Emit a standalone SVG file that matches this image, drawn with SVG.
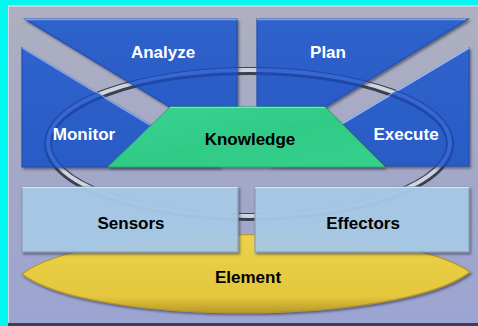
<svg xmlns="http://www.w3.org/2000/svg" xmlns:xlink="http://www.w3.org/1999/xlink" width="478" height="326" viewBox="0 0 478 326">
<defs>
<linearGradient id="bg" x1="0" y1="0" x2="0" y2="1">
<stop offset="0" stop-color="#aeb0c0"/>
<stop offset="0.5" stop-color="#a4a8c6"/>
<stop offset="1" stop-color="#9ca4d2"/>
</linearGradient>
<linearGradient id="blue" x1="0" y1="0" x2="0" y2="1">
<stop offset="0" stop-color="#2f63cc"/>
<stop offset="1" stop-color="#2a5bc6"/>
</linearGradient>
<linearGradient id="green" x1="0" y1="0" x2="1" y2="1">
<stop offset="0" stop-color="#3ad492"/>
<stop offset="0.5" stop-color="#2fcb86"/>
<stop offset="1" stop-color="#37d08c"/>
</linearGradient>
<linearGradient id="yellow" x1="0" y1="0" x2="0" y2="1">
<stop offset="0" stop-color="#ecd24a"/>
<stop offset="0.8" stop-color="#e3c63c"/>
<stop offset="1" stop-color="#b89a28"/>
</linearGradient>
<clipPath id="cA"><polygon points="25,19 237,19 237,107 170,107"/></clipPath>
<clipPath id="cP"><polygon points="257,19 468,19 325,107 257,107"/></clipPath>
<clipPath id="cM"><polygon points="22,48 22,167 220,167"/></clipPath>
<clipPath id="cE"><polygon points="469,48 469,166 271,166"/></clipPath>
<g id="ringF">
<ellipse cx="249" cy="144" rx="201" ry="73" fill="none" stroke="#1f46a6" stroke-width="8" stroke-opacity="0.9"/>
<ellipse cx="249" cy="143" rx="201" ry="73" fill="none" stroke="#3a6cd6" stroke-width="4" stroke-opacity="0.9"/>
</g>
<filter id="sh" x="-5%" y="-5%" width="110%" height="120%">
<feDropShadow dx="1.5" dy="2" stdDeviation="1.2" flood-color="#303850" flood-opacity="0.6"/>
</filter>
</defs>
<style>
.blue{fill:url(#blue);stroke:#244fae;stroke-width:1.2;filter:url(#sh)}
.light{fill:#a9cbe8;fill-opacity:0.93;stroke:#8c9cb4;stroke-width:1.2;filter:url(#sh)}
.w{font-family:"Liberation Sans",Arial,sans-serif;font-weight:bold;font-size:17px;fill:#ffffff;text-anchor:middle}
.k{font-family:"Liberation Sans",Arial,sans-serif;font-weight:bold;font-size:17px;fill:#000000;text-anchor:middle}
.hl{stroke:#7fa2ea;stroke-width:1.5;fill:none}
</style>
<rect x="0" y="0" width="478" height="326" fill="#00f8f0"/>
<rect x="8" y="5" width="470" height="321" fill="#3c4050"/>
<rect x="8" y="5" width="470" height="318" fill="url(#bg)"/>
<line x1="8" y1="6" x2="478" y2="6" stroke="#d6d8e4" stroke-width="1.5"/>
<line x1="8.5" y1="5" x2="8.5" y2="323" stroke="#d6d8e4" stroke-width="1"/>

<g id="ring-back">
<ellipse cx="249" cy="144" rx="201" ry="73" fill="none" stroke="#3a4054" stroke-width="8"/>
<ellipse cx="249" cy="143" rx="201" ry="73" fill="none" stroke="#d0d4e0" stroke-width="4"/>
</g>

<g id="element">
<path d="M22,274 C90,222 400,222 470,272 C400,326 90,326 22,274 Z" fill="url(#yellow)" stroke="#b39826" stroke-width="1.2" filter="url(#sh)"/>
<text class="k" x="248" y="283">Element</text>
</g>

<g id="analyze">
<polygon class="blue" points="25,19 237,19 237,107 170,107"/>
<line x1="25" y1="19.5" x2="237" y2="19.5" class="hl"/>
<use xlink:href="#ringF" href="#ringF" clip-path="url(#cA)"/>
<text class="w" x="163" y="58">Analyze</text>
</g>
<g id="plan">
<polygon class="blue" points="257,19 468,19 325,107 257,107"/>
<line x1="257" y1="19.5" x2="466" y2="19.5" class="hl"/>
<use xlink:href="#ringF" href="#ringF" clip-path="url(#cP)"/>
<text class="w" x="328" y="58">Plan</text>
</g>
<g id="monitor">
<polygon class="blue" points="22,48 22,167 220,167"/>
<line x1="22.5" y1="48" x2="150" y2="125" class="hl"/>
<use xlink:href="#ringF" href="#ringF" clip-path="url(#cM)"/>
<text class="w" x="84" y="140">Monitor</text>
</g>
<g id="execute">
<polygon class="blue" points="469,48 469,166 271,166"/>
<line x1="469" y1="48" x2="340" y2="125" stroke="#9fb8ec" stroke-width="1.5"/>
<use xlink:href="#ringF" href="#ringF" clip-path="url(#cE)"/>
<text class="w" x="406" y="140">Execute</text>
</g>

<g id="knowledge">
<polygon points="170,107 325,107 385,167 108,167" fill="url(#green)" stroke="#26a870" stroke-width="1" filter="url(#sh)"/>
<line x1="170" y1="107.5" x2="325" y2="107.5" stroke="#7ee8b8" stroke-width="1.2"/>
<text class="k" x="250" y="145">Knowledge</text>
</g>

<g id="sensors">
<rect class="light" x="22" y="187" width="216" height="65"/>
<line x1="22" y1="187.5" x2="238" y2="187.5" stroke="#d8e6f4" stroke-width="1.2"/>
<text class="k" x="131" y="229">Sensors</text>
</g>
<g id="effectors">
<rect class="light" x="255" y="187" width="214" height="65"/>
<line x1="255" y1="187.5" x2="469" y2="187.5" stroke="#d8e6f4" stroke-width="1.2"/>
<text class="k" x="363" y="229">Effectors</text>
</g>
</svg>
